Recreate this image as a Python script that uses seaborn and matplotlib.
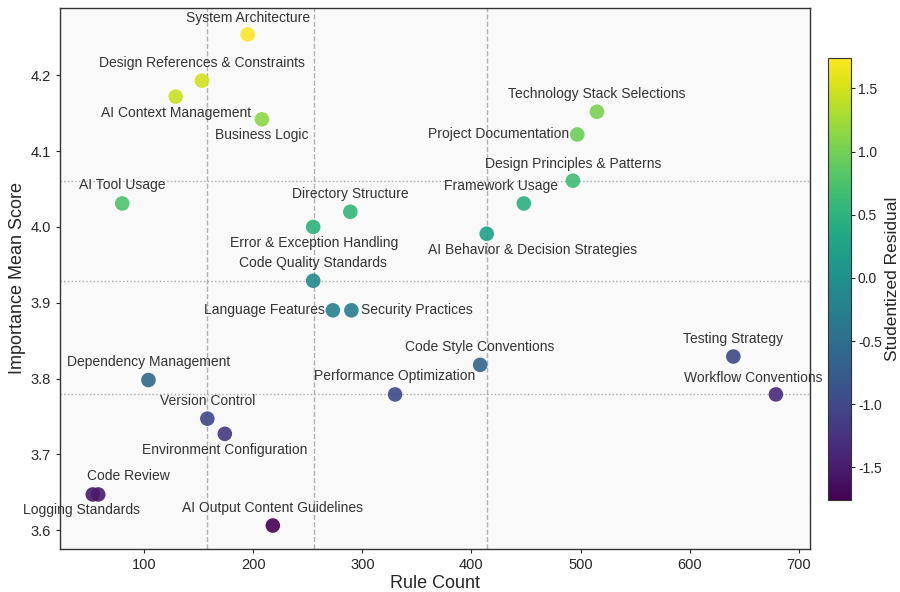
import numpy as np
import pandas as pd
import matplotlib
matplotlib.use("Agg")
import matplotlib.pyplot as plt
import seaborn as sns

# Categories and values
categories = [
    "System Architecture", "Design References & Constraints", "AI Context Management",
    "Business Logic", "Technology Stack Selections", "Project Documentation",
    "Design Principles & Patterns", "AI Tool Usage", "Directory Structure",
    "Error & Exception Handling", "Framework Usage", "AI Behavior & Decision Strategies",
    "Code Quality Standards", "Language Features", "Security Practices",
    "Code Style Conventions", "Testing Strategy", "Performance Optimization",
    "Workflow Conventions", "Dependency Management", "Version Control",
    "Environment Configuration", "Code Review", "Logging Standards",
    "AI Output Content Guidelines",
]
rule_count = [195, 153, 129, 208, 515, 497, 493, 80, 289, 255, 448, 414,
              255, 273, 290, 408, 640, 330, 679, 104, 158, 174, 58, 53, 218]
importance = [4.254, 4.193, 4.172, 4.142, 4.152, 4.122, 4.061, 4.031, 4.020,
              4.000, 4.031, 3.991, 3.929, 3.890, 3.890, 3.818, 3.829, 3.779,
              3.779, 3.798, 3.747, 3.727, 3.647, 3.647, 3.606]
residual = [1.74, 1.50, 1.45, 1.15, 1.05, 0.95, 0.65, 0.75, 0.55, 0.50, 0.45,
            0.25, -0.10, -0.25, -0.30, -0.65, -1.00, -1.00, -1.35, -0.60,
            -1.00, -1.20, -1.50, -1.52, -1.76]

# quartile reference lines
x_lines = [157.7, 255.7, 414]
y_lines = [4.061, 3.929, 3.779]

# label offsets in pixels (dx, dy, ha)
offsets = {
    "System Architecture": (0, 16, "center"),
    "Design References & Constraints": (0, 18, "center"),
    "AI Context Management": (0, -16, "center"),
    "Business Logic": (0, -16, "center"),
    "Technology Stack Selections": (0, 18, "center"),
    "Project Documentation": (-8, 0, "right"),
    "Design Principles & Patterns": (0, 17, "center"),
    "AI Tool Usage": (0, 18, "center"),
    "Directory Structure": (0, 18, "center"),
    "Error & Exception Handling": (1, -16, "center"),
    "Framework Usage": (-23, 17, "center"),
    "AI Behavior & Decision Strategies": (46, -16, "center"),
    "Code Quality Standards": (0, 18, "center"),
    "Language Features": (-8, 0, "right"),
    "Security Practices": (10, 0, "left"),
    "Code Style Conventions": (0, 18, "center"),
    "Testing Strategy": (0, 18, "center"),
    "Performance Optimization": (0, 18, "center"),
    "Workflow Conventions": (-23, 16, "center"),
    "Dependency Management": (0, 18, "center"),
    "Version Control": (0, 18, "center"),
    "Environment Configuration": (0, -16, "center"),
    "Code Review": (30, 18, "center"),
    "Logging Standards": (-11, -16, "center"),
    "AI Output Content Guidelines": (0, 18, "center"),
}

df = pd.DataFrame({"category": categories, "rules": rule_count,
                   "importance": importance, "resid": residual})

sns.set_style("ticks")
plt.rcParams["font.family"] = ["Liberation Sans", "DejaVu Sans"]
plt.rcParams["axes.unicode_minus"] = False

fig = plt.figure(figsize=(9, 5.92), dpi=100)
ax = fig.add_axes([0.0667, 0.0726, 0.833, 0.914])
cax = fig.add_axes([0.92, 0.155, 0.0256, 0.747])
ax.set_facecolor("#f9f9f9")

vmin, vmax = -1.76, 1.74
norm = plt.Normalize(vmin, vmax)
sns.scatterplot(data=df, x="rules", y="importance", hue="resid", palette="viridis",
                hue_norm=norm, s=110, alpha=0.9, edgecolor="none", legend=False,
                ax=ax, zorder=3)

for xv in x_lines:
    ax.axvline(xv, color="#b0b0b0", linestyle="--", linewidth=1, zorder=1)
for yv in y_lines:
    ax.axhline(yv, color="#a8a8a8", linestyle=":", linewidth=1, zorder=1)

for _, row in df.iterrows():
    dx, dy, ha = offsets[row["category"]]
    ax.annotate(row["category"], (row["rules"], row["importance"]),
                xytext=(dx, dy), textcoords="offset pixels", ha=ha, va="center",
                fontsize=10, color="#333333", zorder=4)

ax.set_xlim(23, 710)
ax.set_ylim(3.575, 4.289)
ax.set_xticks([100, 200, 300, 400, 500, 600, 700])
ax.set_yticks([3.6, 3.7, 3.8, 3.9, 4.0, 4.1, 4.2])
ax.set_xlabel("Rule Count", fontsize=13, labelpad=2)
ax.set_ylabel("Importance Mean Score", fontsize=13, labelpad=3)
ax.tick_params(labelsize=10.5, length=3)
for sp in ax.spines.values():
    sp.set_color("#333333")
    sp.set_linewidth(1)

sm = plt.cm.ScalarMappable(cmap="viridis", norm=norm)
sm.set_array([])
cb = fig.colorbar(sm, cax=cax)
cb.set_ticks([-1.5, -1.0, -0.5, 0.0, 0.5, 1.0, 1.5])
cb.ax.tick_params(labelsize=10, length=3, pad=2)
cb.set_label("Studentized Residual", fontsize=12.5, labelpad=2)
cb.outline.set_edgecolor("#333333")

fig.savefig("out.png", dpi=100)
